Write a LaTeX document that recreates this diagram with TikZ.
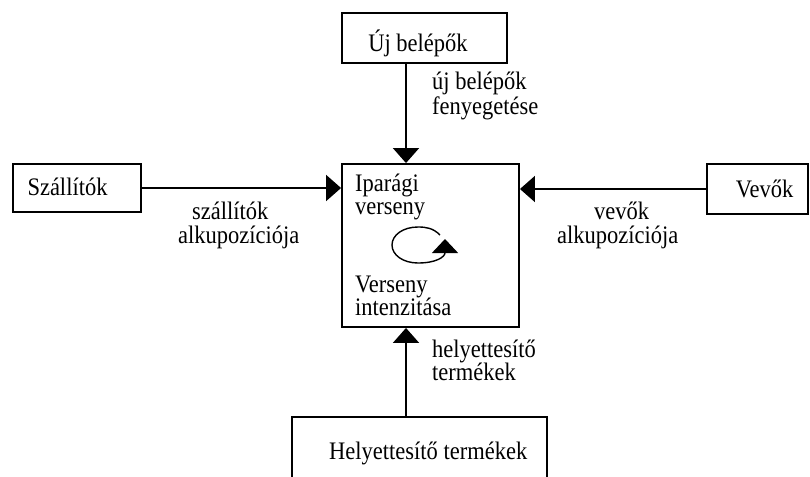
\documentclass[tikz,border=0pt]{standalone}
\usepackage{fontspec}
\setmainfont{Liberation Serif}
\usetikzlibrary{arrows.meta}
\begin{document}
\begin{tikzpicture}[x=1pt,y=-1pt,
  box/.style={draw, line width=1.9pt, fill=white, rectangle, inner sep=0pt},
  lbl/.style={inner sep=0pt, font=\fontsize{22.5}{24}\selectfont, yscale=1.12, transform shape},
  link/.style={line width=1.8pt, -{Triangle[width=26pt,length=15pt]}},
  loopline/.style={line width=1.4pt, -{Triangle[width=26pt,length=14pt]}}]
\useasboundingbox (0,0) rectangle (810,476);

% the five forces as boxes
\node[box, minimum width=165pt, minimum height=50pt]  (uj)    at (424.5,38)  {};
\node[box, minimum width=177pt, minimum height=163pt] (ipar)  at (430.5,245.5) {};
\node[box, minimum width=128pt, minimum height=48pt]  (szal)  at (77,188)    {};
\node[box, minimum width=101pt, minimum height=50pt]  (vevo)  at (757.5,189) {};
\node[box, minimum width=255pt, minimum height=83pt]  (helyt) at (419.5,458.5) {};

% vertical axis of the top and bottom connectors
\coordinate (axis) at (406,0);

% connectors into the central box
\draw[link] (uj.south -| axis) -- (ipar.north -| axis);
\draw[link] (helyt.north -| axis) -- (ipar.south -| axis);
\draw[link] (szal.east) -- (szal.east -| ipar.west);
\draw[link] (vevo.west) -- (vevo.west -| ipar.east);

% rivalry loop inside the central box
\coordinate (loopstart) at (440,235);
\coordinate (looptip) at (445,239);
\draw[loopline] (loopstart)
  .. controls (433,228) and (426,227) .. (418,227)
  .. controls (403,227) and (392,235) .. (392,245)
  .. controls (392,255) and (403,263) .. (418,263)
  .. controls (436,263) and (445,257) .. (looptip);

% box titles
\node[lbl, anchor=base] (ujt)    at (418,52)   {Új belépők};
\node[lbl, anchor=base] (szalt)  at (67.5,195) {Szállítók};
\node[lbl, anchor=base] (vevot)  at (764.5,197) {Vevők};
\node[lbl, anchor=base west] (helytt) at (329,459) {Helyettesítő termékek};
\node[lbl, anchor=base west] (ipar1) at (355,191) {Iparági};
\node[lbl, anchor=base west] (ipar2) at (355,214) {verseny};
\node[lbl, anchor=base west] (ipar3) at (355,292) {Verseny};
\node[lbl, anchor=base west] (ipar4) at (355,315) {intenzitása};

% connector labels
\node[lbl, anchor=base west] (l1a) at (432,90)  {új belépők};
\node[lbl, anchor=base west] (l1b) at (432,114) {fenyegetése};
\node[lbl, anchor=base west] (l2a) at (192,219) {szállítók};
\node[lbl, anchor=base west] (l2b) at (178,243) {alkupozíciója};
\node[lbl, anchor=base west] (l3a) at (594,219) {vevők};
\node[lbl, anchor=base west] (l3b) at (557,243) {alkupozíciója};
\node[lbl, anchor=base west] (l4a) at (432,357) {helyettesítő};
\node[lbl, anchor=base west] (l4b) at (432,380) {termékek};
\end{tikzpicture}
\end{document}
